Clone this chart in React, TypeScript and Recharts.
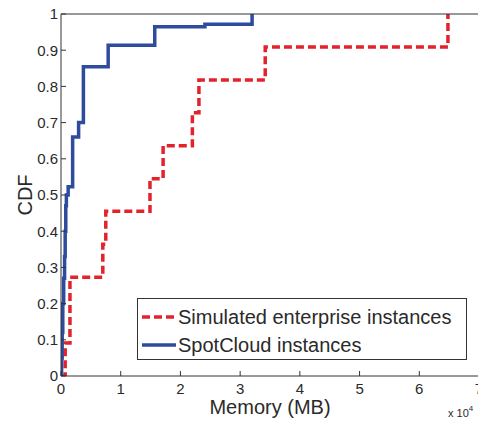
import { LineChart, Line, XAxis, YAxis, Legend } from 'recharts';

// memory in MB, CDF of instances
const memoryEnterprise = [0, 700, 1500, 7000, 7500, 14900, 17100, 22000, 23100, 34200, 64800];
const cdfEnterprise = [0, 0.091, 0.273, 0.364, 0.455, 0.545, 0.636, 0.727, 0.818, 0.909, 1];

const memorySpotCloud = [0, 100, 200, 300, 450, 600, 700, 800, 900, 1200, 1950, 2950, 3750, 7900, 15700, 24100, 32000];
const cdfSpotCloud = [0, 0.05, 0.12, 0.2, 0.27, 0.33, 0.4, 0.47, 0.5, 0.523, 0.66, 0.7, 0.854, 0.914, 0.965, 0.972, 1];

const xTicks = [0, 10000, 20000, 30000, 40000, 50000, 60000, 70000];
const xTickLabels = ['0', '1', '2', '3', '4', '5', '6', '7'];
const yTicks = [0, 0.1, 0.2, 0.3, 0.4, 0.5, 0.6, 0.7, 0.8, 0.9, 1];
const yTickLabels = ['0', '0.1', '0.2', '0.3', '0.4', '0.5', '0.6', '0.7', '0.8', '0.9', '1'];

const seriesNames = ['Simulated enterprise instances', 'SpotCloud instances'];
const seriesColors = ['#e3232b', '#2e4c9e'];
const seriesDashes = ['8 4', undefined];

const enterpriseData = memoryEnterprise.map((x, i) => ({ x, cdf: cdfEnterprise[i] }));
const spotCloudData = memorySpotCloud.map((x, i) => ({ x, cdf: cdfSpotCloud[i] }));

const font = '"Liberation Sans", Arial, sans-serif';
const axisColor = '#333';
const textColor = '#2a2a2a';

function CdfLabel(props: any) {
  const vb = props.viewBox || { x: 0, y: 14, width: 61, height: 362 };
  const cx = vb.x + 32;
  const cy = vb.y + vb.height / 2;
  return (
    <text x={cx} y={cy} transform={`rotate(-90, ${cx}, ${cy})`} textAnchor="middle" fontSize={20} fontFamily={font} fill={textColor}>
      CDF
    </text>
  );
}

function MemoryLabel(props: any) {
  const vb = props.viewBox || { x: 61, y: 376, width: 418, height: 47 };
  return (
    <g fontFamily={font} fill={textColor}>
      <text x={vb.x + vb.width / 2} y={vb.y + 38} textAnchor="middle" fontSize={20}>
        Memory (MB)
      </text>
      <text x={vb.x + 387} y={vb.y + 41} fontSize={11}>
        x 10<tspan dy={-6} fontSize={8}>4</tspan>
      </text>
    </g>
  );
}

function LegendBox() {
  return (
    <div
      style={{
        width: 330,
        height: 62,
        boxSizing: 'border-box',
        border: `1px solid ${axisColor}`,
        background: '#fff',
        padding: '4px 0 0 4px',
        fontFamily: font,
        fontSize: 20,
        color: textColor,
      }}
    >
      {seriesNames.map((name, i) => (
        <div key={name} style={{ display: 'flex', alignItems: 'center', height: 28 }}>
          <svg width={34} height={28} style={{ marginRight: 2 }}>
            <line x1={0} x2={34} y1={14} y2={14} stroke={seriesColors[i]} strokeWidth={3.5} strokeDasharray={seriesDashes[i]} />
          </svg>
          <span style={{ lineHeight: '28px' }}>{name}</span>
        </div>
      ))}
    </div>
  );
}

export default function App() {
  return (
    <div style={{ position: 'absolute', left: 0, top: 0, width: 478, height: 423, overflow: 'hidden', background: '#fff' }}>
      <LineChart width={481} height={423} margin={{ top: 0, right: 0, bottom: 0, left: 0 }}>
        <XAxis
          xAxisId="bottom"
          type="number"
          dataKey="x"
          domain={[0, 70000]}
          ticks={xTicks}
          tickFormatter={(v) => xTickLabels[xTicks.indexOf(v)]}
          height={47}
          tickSize={-5}
          tickMargin={12}
          interval={0}
          allowDataOverflow
          axisLine={{ stroke: axisColor }}
          tickLine={{ stroke: axisColor }}
          tick={{ fontSize: 15, fontFamily: font, fill: textColor }}
          label={MemoryLabel}
        />
        <XAxis
          xAxisId="top"
          orientation="top"
          type="number"
          dataKey="x"
          domain={[0, 70000]}
          ticks={xTicks}
          height={14}
          tickSize={-5}
          interval={0}
          allowDataOverflow
          axisLine={{ stroke: axisColor }}
          tickLine={{ stroke: axisColor }}
          tick={false}
        />
        <YAxis
          yAxisId="left"
          type="number"
          domain={[0, 1]}
          ticks={yTicks}
          tickFormatter={(v) => yTickLabels[yTicks.indexOf(v)]}
          width={61}
          tickSize={-5}
          tickMargin={8}
          interval={0}
          allowDataOverflow
          axisLine={{ stroke: axisColor }}
          tickLine={{ stroke: axisColor }}
          tick={{ fontSize: 15, fontFamily: font, fill: textColor }}
          label={CdfLabel}
        />
        <YAxis
          yAxisId="right"
          orientation="right"
          type="number"
          domain={[0, 1]}
          ticks={yTicks}
          width={2}
          tickSize={-5}
          interval={0}
          allowDataOverflow
          axisLine={{ stroke: axisColor }}
          tickLine={{ stroke: axisColor }}
          tick={false}
        />
        <Legend
          layout="horizontal"
          verticalAlign="middle"
          align="center"
          wrapperStyle={{ left: 137, top: 298, width: 330, height: 62 }}
          content={LegendBox}
        />
        <Line
          xAxisId="bottom"
          yAxisId="left"
          data={enterpriseData}
          dataKey="cdf"
          name={seriesNames[0]}
          type="stepAfter"
          stroke={seriesColors[0]}
          strokeWidth={3.5}
          strokeDasharray={seriesDashes[0]}
          dot={false}
          activeDot={false}
          isAnimationActive={false}
        />
        <Line
          xAxisId="bottom"
          yAxisId="left"
          data={spotCloudData}
          dataKey="cdf"
          name={seriesNames[1]}
          type="stepAfter"
          stroke={seriesColors[1]}
          strokeWidth={3.5}
          dot={false}
          activeDot={false}
          isAnimationActive={false}
        />
      </LineChart>
    </div>
  );
}
